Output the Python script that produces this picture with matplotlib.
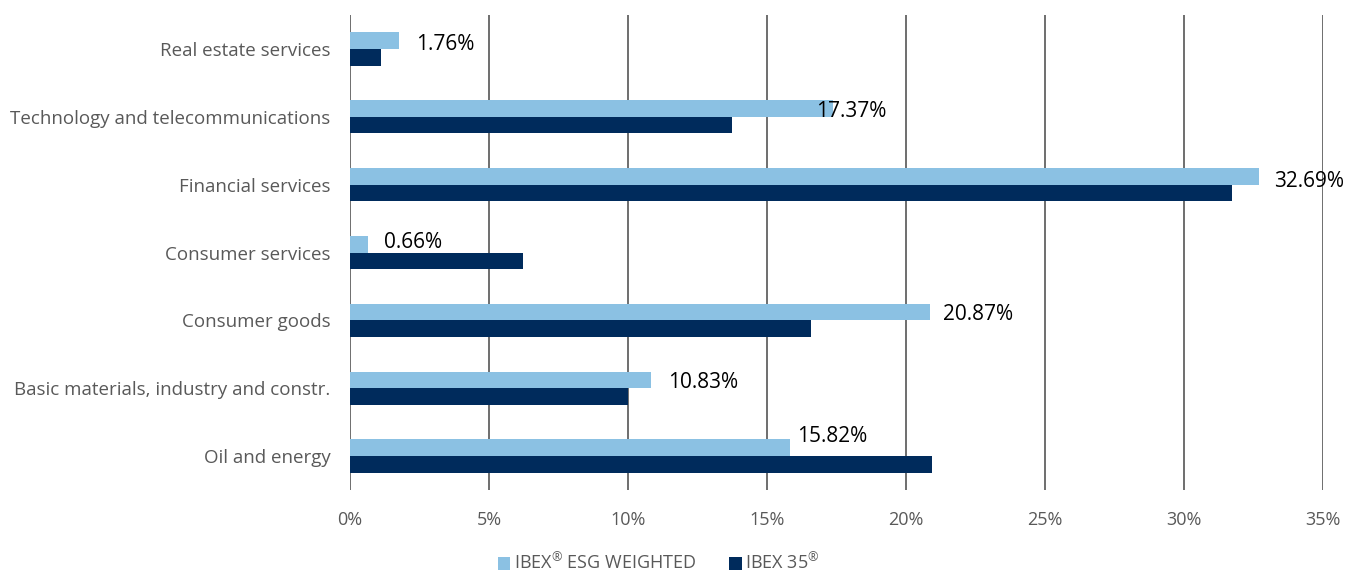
import matplotlib.pyplot as plt
import numpy as np
from matplotlib.ticker import FuncFormatter

plt.rcParams['font.family'] = ['Open Sans', 'DejaVu Sans']
plt.rcParams['mathtext.fontset'] = 'custom'
plt.rcParams['mathtext.rm'] = 'Open Sans'

# data, bottom to top as drawn
sectors = ['Oil and energy', 'Basic materials, industry and constr.', 'Consumer goods',
           'Consumer services', 'Financial services', 'Technology and telecommunications',
           'Real estate services']
esg_weighted = [15.82, 10.83, 20.87, 0.66, 32.69, 17.37, 1.76]
ibex35 = [20.94, 10.0, 16.58, 6.22, 31.73, 13.74, 1.12]

light = '#8BC1E3'
dark = '#002B5C'
grey = '#595959'

fig = plt.figure(figsize=(13.47, 5.75), dpi=100)
ax = fig.add_axes([0.2598, 0.1478, 0.7224, 0.8261])

y = np.arange(len(sectors))
h = 0.245
ax.barh(y + h / 2, esg_weighted, height=h, color=light, label='IBEX$^{®}$ ESG WEIGHTED', zorder=3)
ax.barh(y - h / 2, ibex35, height=h, color=dark, label='IBEX 35$^{®}$', zorder=3)

# value labels on the light bars (small manual nudges like the original)
nudge_x = [0.25, 0.6, 0.45, 0.55, 0.55, -0.6, 0.6]
nudge_y = [0.17, -0.04, -0.04, 0.03, -0.07, -0.04, -0.06]
for i, v in enumerate(esg_weighted):
    ax.text(v + nudge_x[i], y[i] + h / 2 + nudge_y[i], f'{v:.2f}%',
            va='center', ha='left', fontsize=15, color='black', zorder=4)

ax.set_xlim(0, 35)
ax.set_ylim(-0.5, len(sectors) - 0.5)
ax.set_xticks(np.arange(0, 36, 5))
ax.xaxis.set_major_formatter(FuncFormatter(lambda x, p: f'{x:.0f}%'))
ax.set_yticks(y)
ax.set_yticklabels(sectors)
ax.tick_params(axis='both', length=0, labelsize=13, labelcolor=grey)
ax.tick_params(axis='y', pad=14, labelsize=13.5)
ax.tick_params(axis='x', pad=15)

ax.grid(axis='x', color='#6E6E6E', linewidth=1.4, zorder=0)
for s in ax.spines.values():
    s.set_visible(False)

ax.legend(loc='lower center', ncol=2, frameon=False,
          fontsize=13, handlelength=0.7, handleheight=0.7, handletextpad=0.2, columnspacing=1.8,
          labelcolor=grey, bbox_to_anchor=(0.489, -0.026), bbox_transform=fig.transFigure)

fig.savefig('out.png', dpi=100)
